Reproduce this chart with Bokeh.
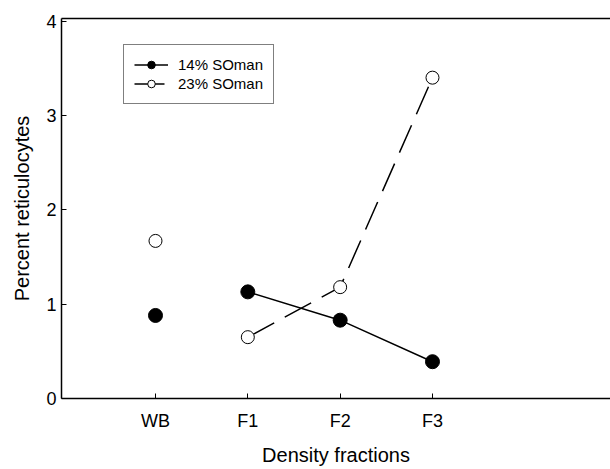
from bokeh.plotting import figure
from bokeh.models import (ColumnDataSource, FixedTicker, LinearAxis, Legend,
                          LegendItem, Range1d)
from bokeh.embed import file_html
from bokeh.resources import INLINE

# ---- data ----
categories = ["WB", "F1", "F2", "F3"]
soman14 = [0.88, 1.13, 0.83, 0.39]
soman23 = [1.67, 0.65, 1.18, 3.40]
series_names = ["14% SOman", "23% SOman"]
y_ticks = [0, 1, 2, 3, 4]

xpos = [i + 1 for i in range(len(categories))]

FONT = "Liberation Sans"

p = figure(width=610, height=469, output_backend="svg", toolbar_location=None,
           x_range=Range1d(-0.018, 5.928), y_range=Range1d(0, 4.027),
           min_border_left=61, min_border_right=0, min_border_top=18,
           min_border_bottom=71)
p.outline_line_color = None
p.grid.visible = False
p.background_fill_color = "white"
p.border_fill_color = "white"

src14 = ColumnDataSource(dict(x=xpos, y=soman14))
src23 = ColumnDataSource(dict(x=xpos, y=soman23))
# connected lines only for the fractions (F1..F3)
l14 = ColumnDataSource(dict(x=xpos[1:], y=soman14[1:]))
l23 = ColumnDataSource(dict(x=xpos[1:], y=soman23[1:]))

r_l14 = p.line("x", "y", source=l14, line_color="black", line_width=1.5)
r_l23 = p.line("x", "y", source=l23, line_color="black", line_width=1.5,
               line_dash="30 12")
r_s14 = p.scatter("x", "y", source=src14, size=14, marker="circle",
                  fill_color="black", line_color="black", line_width=1)
r_s23 = p.scatter("x", "y", source=src23, size=13, marker="circle",
                  fill_color="white", line_color="black", line_width=1)

# axes
xa = p.xaxis[0]
xa.ticker = FixedTicker(ticks=xpos)
xa.major_label_overrides = {x: c for x, c in zip(xpos, categories)}
xa.axis_label = "Density fractions"
ya = p.yaxis[0]
ya.ticker = FixedTicker(ticks=y_ticks)
ya.axis_label = "Percent reticulocytes"

for ax in (xa, ya):
    ax.axis_line_color = "black"
    ax.axis_line_width = 1.5
    ax.major_tick_in = 5
    ax.major_tick_out = 0
    ax.minor_tick_line_color = None
    ax.major_tick_line_color = "black"
    ax.major_label_text_font = FONT
    ax.major_label_text_font_size = "18px"
    ax.major_label_text_color = "black"
    ax.axis_label_text_font = FONT
    ax.axis_label_text_font_size = "20px"
    ax.axis_label_text_font_style = "normal"
    ax.axis_label_text_color = "black"

xa.major_label_standoff = 12
xa.axis_label_standoff = 10
ya.major_label_standoff = 5
ya.axis_label_standoff = 10

top = LinearAxis(ticker=FixedTicker(ticks=[]), axis_line_color="black",
                 axis_line_width=1.5, major_tick_out=0, minor_tick_out=0,
                 major_label_text_font_size="0px")
p.add_layout(top, "above")

legend = Legend(items=[
    LegendItem(label=series_names[0], renderers=[r_l14, r_s14]),
    LegendItem(label=series_names[1], renderers=[r_l23, r_s23]),
], location=(62, 294))
legend.label_text_font = FONT
legend.label_text_font_size = "15px"
legend.label_text_color = "black"
legend.border_line_color = "black"
legend.border_line_width = 1
legend.background_fill_color = "white"
legend.background_fill_alpha = 1
legend.padding = 10
legend.spacing = 0
legend.glyph_width = 34
legend.glyph_height = 19
legend.label_height = 19
legend.label_standoff = 10
legend.margin = 0
p.add_layout(legend, "center")

open("out.html", "w").write(file_html(p, INLINE))
